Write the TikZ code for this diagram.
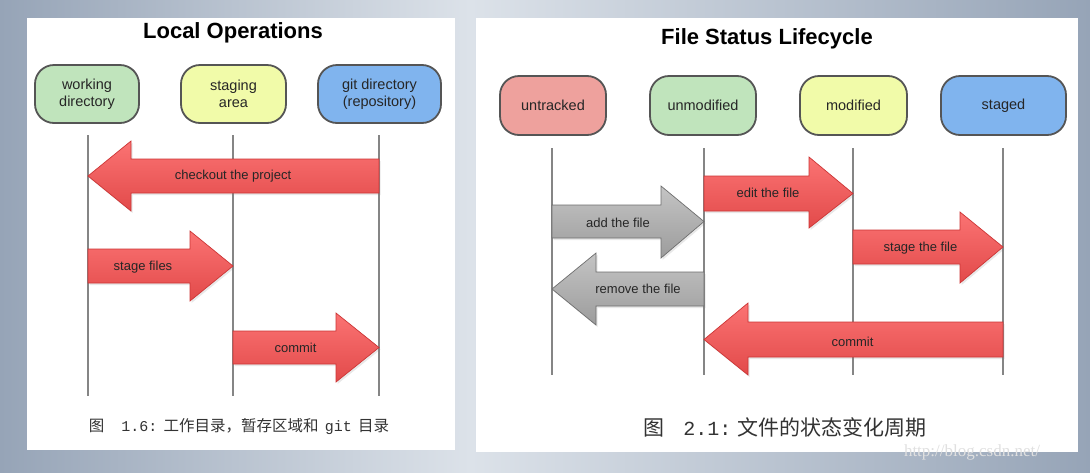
\documentclass[tikz,border=0pt]{standalone}
\usepackage{fontspec}
\newfontfamily\arial{Liberation Sans}
\newfontfamily\cjk{Noto Sans CJK SC}
\newfontfamily\wmfont{Liberation Serif}
\newfontfamily\monof{Liberation Mono}
\usetikzlibrary{shadows}
\definecolor{bgdark}{HTML}{96A4B7}
\definecolor{bglight}{HTML}{DCE2E9}
\definecolor{nodeborder}{HTML}{555555}
\definecolor{cgreen}{HTML}{C0E4BC}
\definecolor{cyellow}{HTML}{F1FBA9}
\definecolor{cblue}{HTML}{80B4EE}
\definecolor{cpink}{HTML}{EEA19D}
\definecolor{redtop}{HTML}{FB7373}
\definecolor{redbot}{HTML}{E24A4A}
\definecolor{redline}{HTML}{CC3535}
\definecolor{graytop}{HTML}{C4C4C4}
\definecolor{graybot}{HTML}{9C9C9C}
\definecolor{grayline}{HTML}{6E6E6E}
\definecolor{lifeline}{HTML}{858585}
\tikzset{
  state/.style={draw=nodeborder, line width=1.8pt, rounded corners=19pt,
    align=center, inner sep=0pt, font=\arial\fontsize{14.5}{17}\selectfont,
    text=black!85},
  lifel/.style={draw=lifeline, line width=1.8pt},
  redarrow/.style={draw=redline, line width=0.7pt, top color=redtop, bottom color=redbot,
    drop shadow={shadow xshift=1.5pt, shadow yshift=-2pt, opacity=0.18}},
  grayarrow/.style={draw=grayline, line width=0.7pt, top color=graytop, bottom color=graybot,
    drop shadow={shadow xshift=1.5pt, shadow yshift=-2pt, opacity=0.18}},
  albl/.style={font=\arial\fontsize{13}{15}\selectfont, text=black!85, inner sep=0pt},
  ttl/.style={font=\arial\bfseries\fontsize{22}{26}\selectfont, inner sep=0pt},
  panel/.style={fill=white, draw=none}
}
% style, tail x, tip x, head base x, body top, body bottom, head top, head bottom
\newcommand\hArrow[8]{%
  \path[#1] (#2,#5) -- (#4,#5) -- (#4,#7) -- (#3,{(#5+#6)/2}) -- (#4,#8) -- (#4,#6) -- (#2,#6) -- cycle;}
\begin{document}
\begin{tikzpicture}[x=1pt,y=-1pt]
\useasboundingbox (0,0) rectangle (1090,472);
% background
\shade[left color=bgdark, right color=bglight] (0,0) rectangle (470,472);
\shade[left color=bglight, right color=bgdark] (470,0) rectangle (1090,472);
% panels
\path[panel] (27,18) rectangle (455,450);
\path[panel] (476,18) rectangle (1078,452);

% ===== Left panel =====
\node[ttl] (t1) at (233,33) {Local Operations};
\node[state, fill=cgreen, minimum width=104pt, minimum height=58pt] (wd) at (87,94) {working\\directory};
\node[state, fill=cyellow, minimum width=105pt, minimum height=58pt] (sa) at (233.5,94) {staging\\area};
\node[state, fill=cblue, minimum width=123pt, minimum height=58pt] (gd) at (379.5,94) {git directory\\(repository)};

\coordinate (wdt) at (88,135); \coordinate (wdb) at (88,396);
\coordinate (sat) at (233,135); \coordinate (sab) at (233,396);
\coordinate (gdt) at (379,135); \coordinate (gdb) at (379,396);
\draw[lifel] (wdt) -- (wdb);
\draw[lifel] (sat) -- (sab);
\draw[lifel] (gdt) -- (gdb);

\hArrow{redarrow}{379}{88}{131}{159}{193}{141}{211}
\node[albl] (l1) at (233,176) {checkout the project};
\hArrow{redarrow}{88}{233}{190}{249}{283}{231}{301}
\node[albl] (l2) at (143,267) {stage files};
\hArrow{redarrow}{233}{379}{336}{331}{364}{313}{382}
\node[albl] (l3) at (295.5,348) {commit};

\node[inner sep=0pt, text=black!80] (c1) at (239,427)
  {\cjk\fontsize{15.5}{17}\selectfont 图\hspace{1.1em}{\monof\fontsize{15}{17}\selectfont 1.6:}\hspace{0.4em}工作目录，暂存区域和\hspace{0.4em}{\monof\fontsize{15}{17}\selectfont git}\hspace{0.4em}目录};

% ===== Right panel =====
\node[ttl] (t2) at (767,39) {File Status Lifecycle};
\node[state, fill=cpink, minimum width=106pt, minimum height=59pt] (ut) at (553,105.5) {untracked};
\node[state, fill=cgreen, minimum width=106pt, minimum height=59pt] (um) at (703,105.5) {unmodified};
\node[state, fill=cyellow, minimum width=107pt, minimum height=59pt] (mo) at (853.5,105.5) {modified};
\node[state, fill=cblue, minimum width=125pt, minimum height=59pt] (st) at (1003.5,105.5) {staged};

\coordinate (utt) at (552,148); \coordinate (utb) at (552,375);
\coordinate (umt) at (704,148); \coordinate (umb) at (704,375);
\coordinate (mot) at (853,148); \coordinate (mob) at (853,375);
\coordinate (stt) at (1003,148); \coordinate (stb) at (1003,375);
\draw[lifel, line width=1.4pt] (utt) -- (utb);
\draw[lifel, line width=1.4pt] (umt) -- (umb);
\draw[lifel, line width=1.4pt] (mot) -- (mob);
\draw[lifel, line width=1.4pt] (stt) -- (stb);

\hArrow{redarrow}{704}{853}{809}{176}{211}{157}{228}
\node[albl] (r1) at (768,193) {edit the file};
\hArrow{grayarrow}{552}{704}{661}{205}{238}{186}{258}
\node[albl] (r2) at (618,223) {add the file};
\hArrow{redarrow}{853}{1003}{960}{230}{264}{212}{283}
\node[albl] (r3) at (920.5,248) {stage the file};
\hArrow{grayarrow}{704}{552}{596}{272}{306}{253}{325}
\node[albl] (r4) at (638,289) {remove the file};
\hArrow{redarrow}{1003}{704}{748}{322}{357}{303}{375}
\node[albl] (r5) at (852.5,342) {commit};

\node[inner sep=0pt, text=black!80] (c2) at (785,427)
  {\cjk\fontsize{21}{24}\selectfont 图\hspace{0.9em}{\monof\fontsize{20}{24}\selectfont 2.1:}\hspace{0.3em}文件的状态变化周期};

\node[inner sep=0pt, text=black!12, font=\wmfont\fontsize{17}{19}\selectfont] (wm) at (972,452) {http://blog.csdn.net/};
\end{tikzpicture}
\end{document}
